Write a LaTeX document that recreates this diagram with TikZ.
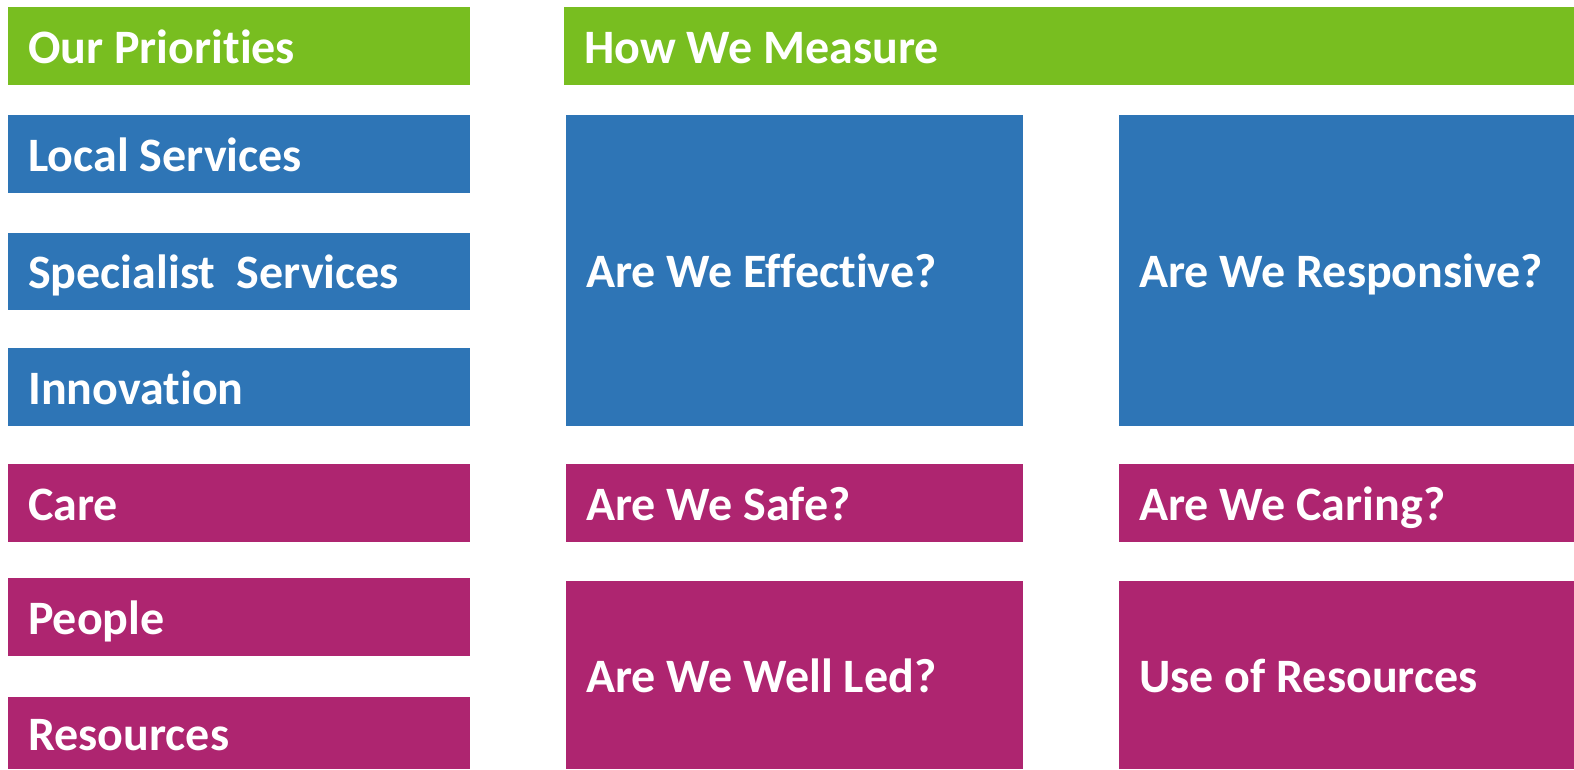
\documentclass[tikz,border=0pt]{standalone}
\usepackage{fontspec}
\setmainfont[Ligatures=NoCommon]{Carlito}
\definecolor{hdrgreen}{RGB}{120,190,32}
\definecolor{cellblue}{RGB}{46,117,182}
\definecolor{cellplum}{RGB}{174,37,112}
\tikzset{
  caption/.style={anchor=base west, inner sep=0pt, text=white,
    font=\fontsize{48}{58}\selectfont\bfseries},
}
% \tile{name}{colour}{left}{top}{right}{bottom}{text}, pixel units, y downwards
\newcommand{\tile}[7]{%
  \fill[#2] (#3,#4) rectangle (#5,#6);
  \node[caption] (#1) at ({#3+20},{(#4+#6)/2+17}) {#7};
}
\begin{document}
\begin{tikzpicture}[x=1pt,y=-1pt]
  \useasboundingbox (0,0) rectangle (1574,769);
  % left column: priorities
  \tile{prio}{hdrgreen}{8}{7}{470}{85}{Our Priorities}
  \tile{local}{cellblue}{8}{115}{470}{193}{Local Services}
  \tile{spec}{cellblue}{8}{233}{470}{310}{Specialist\ \ Services}
  \tile{innov}{cellblue}{8}{348}{470}{426}{Innovation}
  \tile{care}{cellplum}{8}{464}{470}{542}{Care}
  \tile{people}{cellplum}{8}{578}{470}{656}{People}
  \tile{res}{cellplum}{8}{697}{470}{769}{Resources}
  % right block: measures
  \tile{measure}{hdrgreen}{564}{7}{1574}{85}{How We Measure}
  \tile{effective}{cellblue}{566}{115}{1023}{426}{Are We Effective?}
  \tile{responsive}{cellblue}{1119}{115}{1574}{426}{Are We Responsive?}
  \tile{safe}{cellplum}{566}{464}{1023}{542}{Are We Safe?}
  \tile{caring}{cellplum}{1119}{464}{1574}{542}{Are We Caring?}
  \tile{wellled}{cellplum}{566}{581}{1023}{769}{Are We Well Led?}
  \tile{useres}{cellplum}{1119}{581}{1574}{769}{Use of Resources}
\end{tikzpicture}
\end{document}
